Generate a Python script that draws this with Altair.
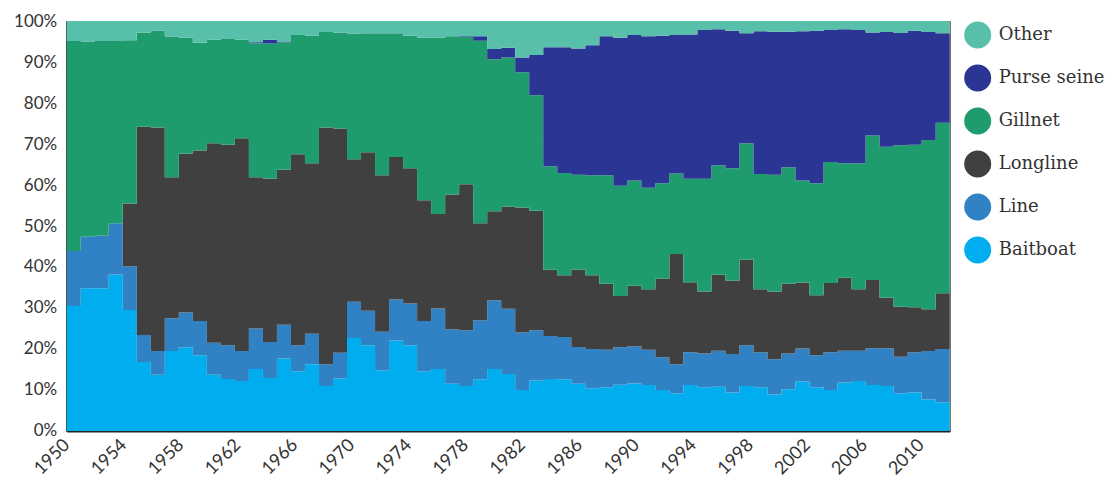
import altair as alt
import pandas as pd

years = list(range(1950, 2013))

baitboat = [30.5, 34.8, 34.8, 38.2, 29.5, 16.8, 13.7, 19.5, 20.4, 18.5,
            13.7, 12.7, 12.2, 15.1, 12.9, 17.7, 14.6, 16.3, 11.0, 12.8,
            22.7, 20.9, 14.8, 22.1, 20.9, 14.6, 15.1, 11.5, 11.0, 12.6,
            15.1, 13.9, 10.0, 12.3, 12.7, 12.6, 11.5, 10.4, 10.7, 11.3,
            11.6, 11.2, 10.0, 9.2, 11.2, 10.7, 10.8, 9.4, 11.0, 10.7,
            8.9, 10.2, 12.1, 10.7, 10.0, 11.8, 12.2, 11.2, 11.0, 9.2,
            9.4, 7.7, 7.0]
line = [13.4, 12.6, 12.8, 12.5, 10.7, 6.6, 5.8, 8.0, 8.5, 8.3,
        7.8, 8.2, 7.3, 9.9, 8.8, 8.2, 6.3, 7.4, 5.3, 6.3,
        8.8, 8.4, 9.4, 10.0, 10.2, 12.2, 14.8, 13.3, 13.6, 14.4,
        16.8, 15.9, 14.0, 12.3, 10.5, 10.3, 9.0, 9.6, 9.1, 9.1,
        9.1, 8.6, 8.0, 7.1, 8.0, 8.2, 8.8, 9.4, 9.9, 8.5,
        8.6, 8.7, 8.0, 7.8, 9.2, 7.8, 7.4, 9.0, 9.2, 8.9,
        9.8, 11.8, 13.0]
longline = [0.0, 0.0, 0.0, 0.0, 15.3, 50.8, 54.5, 34.4, 38.7, 41.6,
            48.7, 48.9, 51.9, 36.9, 39.8, 37.8, 46.6, 41.6, 57.7, 54.7,
            34.8, 38.7, 38.2, 34.7, 33.0, 29.5, 23.0, 32.9, 35.6, 23.7,
            21.7, 24.9, 30.5, 29.1, 16.1, 15.1, 18.8, 18.0, 16.1, 12.5,
            14.7, 14.8, 19.2, 26.9, 17.1, 15.1, 18.5, 17.9, 20.9, 15.4,
            16.5, 17.0, 16.1, 14.6, 16.9, 17.8, 15.0, 16.6, 12.3, 12.2,
            11.0, 10.2, 13.6]
gillnet = [51.2, 47.6, 47.5, 44.4, 39.8, 23.0, 23.6, 34.3, 28.3, 26.3,
           25.2, 25.8, 24.0, 32.7, 33.0, 31.1, 29.1, 31.1, 23.3, 23.4,
           30.5, 29.0, 34.6, 30.2, 32.3, 39.7, 43.1, 38.6, 35.9, 44.5,
           37.1, 36.4, 33.0, 28.2, 25.3, 24.9, 23.2, 24.4, 26.5, 26.9,
           25.7, 24.7, 23.2, 19.6, 25.2, 27.5, 26.7, 27.4, 28.4, 28.1,
           28.5, 28.4, 24.9, 27.3, 29.5, 27.9, 30.7, 35.3, 36.8, 39.4,
           39.6, 41.3, 41.6]
purse_seine = [0.0, 0.0, 0.0, 0.0, 0.0, 0.0, 0.0, 0.0, 0.0, 0.0,
               0.0, 0.0, 0.0, 0.2, 0.9, 0.2, 0.0, 0.0, 0.0, 0.0,
               0.1, 0.0, 0.0, 0.0, 0.0, 0.0, 0.0, 0.0, 0.2, 1.1,
               2.5, 2.4, 3.6, 9.8, 29.0, 30.7, 30.8, 31.7, 33.9, 36.1,
               35.5, 37.0, 36.0, 33.8, 35.2, 36.3, 33.2, 33.5, 26.8, 34.8,
               34.9, 33.1, 36.4, 37.2, 32.2, 32.7, 32.5, 25.1, 28.0, 27.4,
               27.8, 26.3, 21.8]
other = [4.9, 5.0, 4.9, 4.9, 4.7, 2.8, 2.4, 3.8, 4.1, 5.3,
         4.6, 4.4, 4.6, 5.2, 4.6, 5.0, 3.4, 3.6, 2.7, 2.8,
         3.1, 3.0, 3.0, 3.0, 3.6, 4.0, 4.0, 3.7, 3.7, 3.7,
         6.8, 6.5, 8.9, 8.3, 6.4, 6.4, 6.7, 5.9, 3.7, 4.1,
         3.4, 3.7, 3.6, 3.4, 3.3, 2.2, 2.0, 2.4, 3.0, 2.5,
         2.6, 2.6, 2.5, 2.4, 2.2, 2.0, 2.2, 2.8, 2.7, 2.9,
         2.4, 2.7, 3.0]

gears = ["Baitboat", "Line", "Longline", "Gillnet", "Purse seine", "Other"]
series = [baitboat, line, longline, gillnet, purse_seine, other]
legend_order = ["Other", "Purse seine", "Gillnet", "Longline", "Line", "Baitboat"]
colors = ["#58C0AA", "#2B3593", "#1F9C6D", "#404040", "#3082C4", "#00AEEF"]

tick_years = list(range(1950, 2011, 4))

rows = []
for i, (g, vals) in enumerate(zip(gears, series)):
    for y, v in zip(years, vals):
        rows.append({"year": y, "gear": g, "share": v, "ord": i})
    # close the last step (2012 spans up to 2013)
    rows.append({"year": years[-1] + 1, "gear": g, "share": vals[-1], "ord": i})
df = pd.DataFrame(rows)

areas = alt.Chart(df).mark_area(interpolate="step-after").encode(
    x=alt.X("year:Q", scale=alt.Scale(domain=[1950, 2013], nice=False, zero=False), axis=None),
    y=alt.Y(
        "share:Q",
        stack="normalize",
        scale=alt.Scale(domain=[0, 1], nice=False),
        axis=alt.Axis(
            format="%",
            values=[i / 10 for i in range(11)],
            title=None,
            ticks=False,
            labelPadding=10,
            labelFontSize=17,
            labelFont="Lato",
            labelColor="#333333",
            domainColor="#222222",
            domainWidth=2,
            grid=False,
        ),
    ),
    color=alt.Color(
        "gear:N",
        scale=alt.Scale(domain=legend_order, range=colors),
        legend=alt.Legend(
            title=None,
            orient="none",
            legendX=897,
            legendY=0,
            symbolType="circle",
            symbolSize=730,
            symbolStrokeWidth=0,
            symbolOpacity=1,
            labelFont="DejaVu Serif",
            labelFontSize=18,
            labelColor="#333333",
            labelOffset=7,
            labelLimit=200,
            rowPadding=15,
            padding=0,
        ),
    ),
    order=alt.Order("ord:Q"),
)

tick_df = pd.DataFrame({"year": tick_years})
xaxis = alt.Chart(tick_df).mark_point(opacity=0).encode(
    x=alt.X(
        "year:Q",
        scale=alt.Scale(domain=[1950, 2012], nice=False, zero=False),
        axis=alt.Axis(
            orient="bottom",
            values=tick_years,
            format="d",
            title=None,
            ticks=False,
            labelAngle=-45,
            labelAlign="right",
            labelBaseline="middle",
            labelPadding=11,
            labelFontSize=18,
            labelFont="Lato",
            labelColor="#333333",
            domainColor="#222222",
            domainWidth=2,
            grid=False,
            labelOverlap=False,
        ),
    ),
    y=alt.value(0),
)

chart = alt.layer(areas, xaxis).resolve_scale(x="independent").properties(
    width=883,
    height=410,
    autosize="none",
    padding={"left": 58.7, "top": 13, "right": 156, "bottom": 48},
).configure_view(stroke="#333333", strokeWidth=1)

chart.save("out.html", embed_options={"renderer": "svg", "actions": False})
